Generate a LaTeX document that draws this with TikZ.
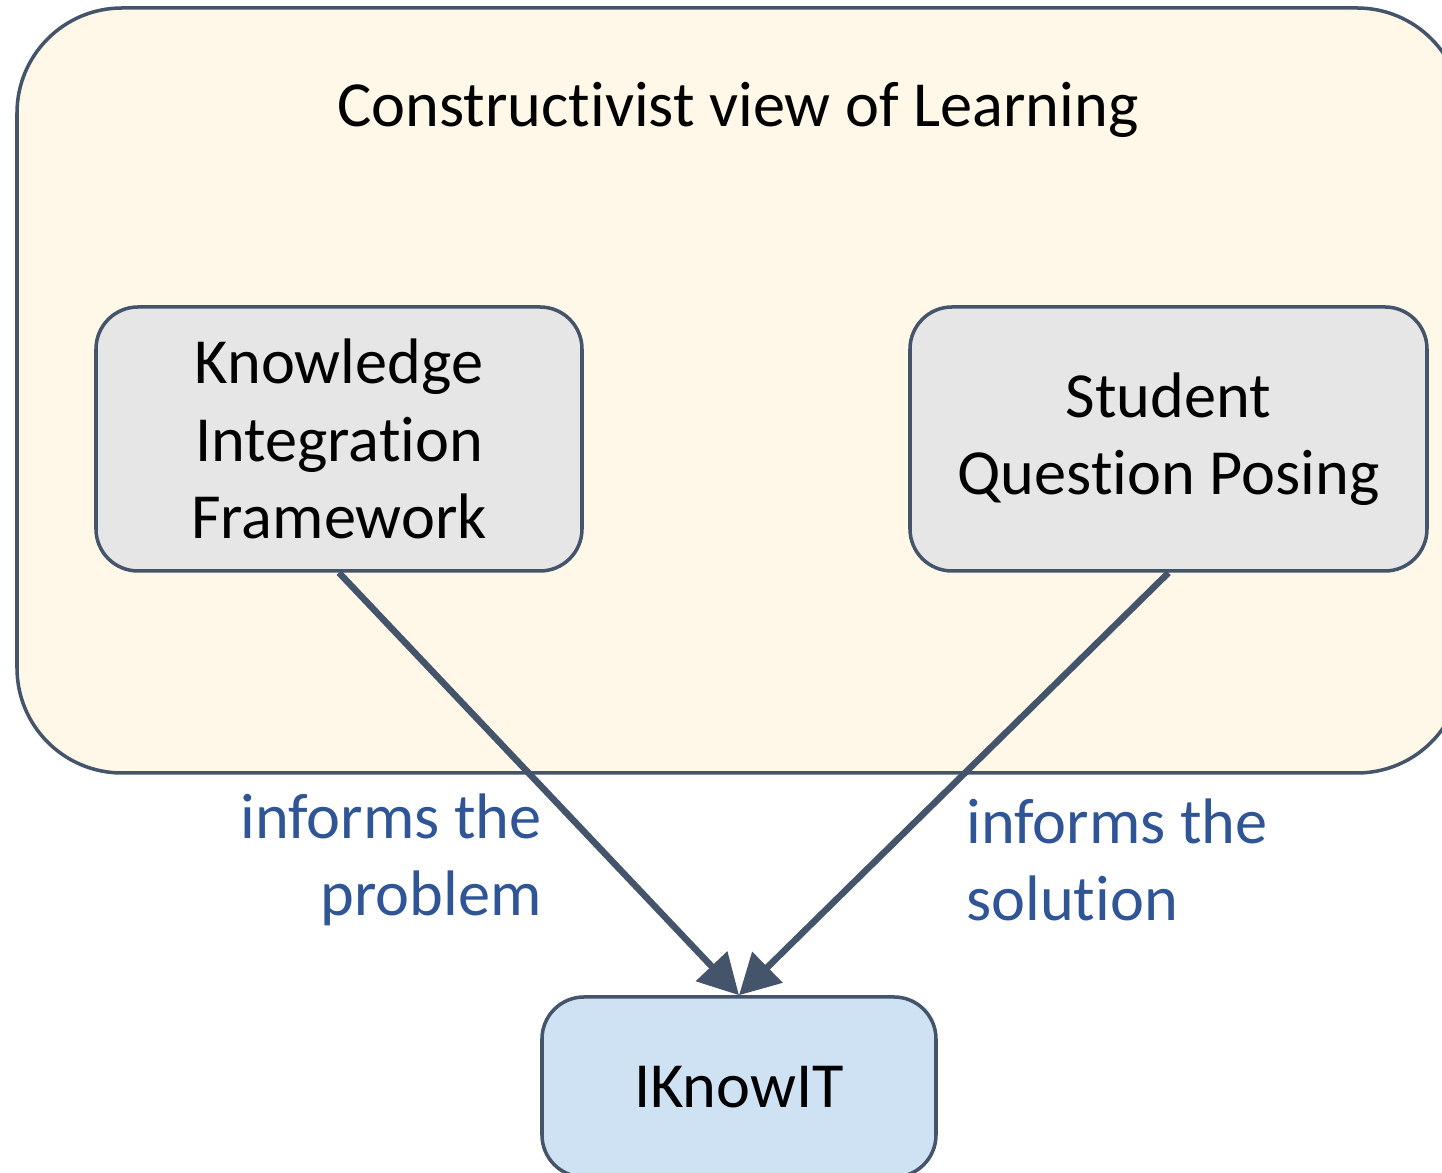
\documentclass[tikz,border=0pt]{standalone}
\usepackage{fontspec}
\setmainfont{Carlito}[Ligatures=NoCommon]
\usetikzlibrary{arrows.meta}
\definecolor{edgegray}{HTML}{44546A}
\definecolor{creamfill}{HTML}{FFF8E8}
\definecolor{boxgray}{HTML}{E6E6E6}
\definecolor{boxblue}{HTML}{CFE2F3}
\definecolor{labelblue}{HTML}{2F5597}
\begin{document}
\begin{tikzpicture}[
  box/.style = {draw=edgegray, line width=1pt, rounded corners=0.42cm, align=center,
                font=\fontsize{18.3}{22}\selectfont},
  informs/.style = {draw=edgegray, line width=1.85pt, -{Triangle[length=0.4cm, width=0.42cm]}},
  lbl/.style = {labelblue, font=\fontsize{18.3}{22}\selectfont}
]
\useasboundingbox (0,0) rectangle (14.42,-11.73);
\clip (0,0) rectangle (14.42,-11.73);
% outer frame
\node[box, fill=creamfill, rounded corners=1.05cm, minimum width=14.45cm, minimum height=7.65cm] (cv) at (7.395,-3.905) {};
\node[font=\fontsize{18.3}{22}\selectfont] (cvtitle) at (7.38,-1.10) {Constructivist view of Learning};
% the two frameworks
\node[box, fill=boxgray, minimum width=4.86cm, minimum height=2.64cm] (ki) at (3.39,-4.39) {Knowledge\\Integration\\Framework};
\node[box, fill=boxgray, minimum width=5.17cm, minimum height=2.64cm] (sqp) at (11.685,-4.39) {Student\\Question Posing};
% the tool
\node[box, fill=boxblue, minimum width=3.94cm, minimum height=1.8cm] (iknow) at (7.39,-10.87) {IKnowIT};
\draw[informs] (ki.south) -- (iknow.north);
\draw[informs] (sqp.south) -- (iknow.north);
\node[lbl, anchor=east, align=right] (prob) at (5.54,-8.60) {informs the\\problem};
\node[lbl, anchor=west, align=left] (sol) at (9.54,-8.60) {informs the\\solution};
\end{tikzpicture}
\end{document}
